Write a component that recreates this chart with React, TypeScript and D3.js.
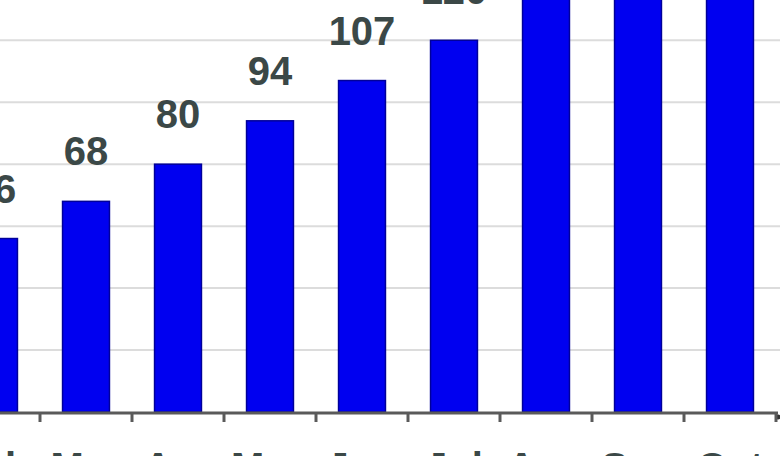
import React, { useEffect, useRef } from 'react';
import * as d3 from 'd3';

const months = ['Feb', 'Mar', 'Apr', 'May', 'Jun', 'Jul', 'Aug', 'Sep', 'Oct'];
const values = [56, 68, 80, 94, 107, 120, 134, 148, 162];
const gridTicks = [20, 40, 60, 80, 100, 120];

const width = 780;
const height = 456;
const axisY = 412;

export default function App() {
  const ref = useRef<SVGSVGElement>(null);

  useEffect(() => {
    const svg = d3.select(ref.current);
    svg.selectAll('*').remove();

    const x = d3
      .scaleBand<string>()
      .domain(months)
      .range([-52, 776])
      .paddingInner(0.49)
      .paddingOuter(0.245);

    const y = d3.scaleLinear().domain([0, 133]).range([axisY, 0]);

    svg.append('rect').attr('width', width).attr('height', height).attr('fill', '#ffffff');

    // horizontal grid
    svg
      .append('g')
      .selectAll('line')
      .data(gridTicks)
      .enter()
      .append('line')
      .attr('x1', 0)
      .attr('x2', width)
      .attr('y1', (d) => y(d))
      .attr('y2', (d) => y(d))
      .attr('stroke', '#dcdcdc')
      .attr('stroke-width', 2);

    // bars
    svg
      .append('g')
      .selectAll('rect')
      .data(values)
      .enter()
      .append('rect')
      .attr('x', (_, i) => x(months[i])!)
      .attr('y', (d) => y(d))
      .attr('width', x.bandwidth())
      .attr('height', (d) => axisY - y(d))
      .attr('fill', '#0000f0')
      .attr('stroke', '#00009a')
      .attr('stroke-width', 1.5);

    // value labels
    svg
      .append('g')
      .selectAll('text')
      .data(values)
      .enter()
      .append('text')
      .attr('x', (_, i) => x(months[i])! + x.bandwidth() / 2)
      .attr('y', (d) => y(d) - 36)
      .attr('text-anchor', 'middle')
      .attr('font-family', 'Liberation Sans, Arial, sans-serif')
      .attr('font-size', 40)
      .attr('font-weight', 'bold')
      .attr('fill', '#3b4847')
      .text((d) => d);

    // x axis
    const axis = svg.append('g');
    axis
      .append('line')
      .attr('x1', 0)
      .attr('x2', 778)
      .attr('y1', axisY + 1)
      .attr('y2', axisY + 1)
      .attr('stroke', '#5a5a5a')
      .attr('stroke-width', 3);

    axis
      .append('circle')
      .attr('cx', 778)
      .attr('cy', axisY + 5)
      .attr('r', 2.5)
      .attr('fill', '#333');

    const step = x.step();
    axis
      .selectAll('line.tick')
      .data(months)
      .enter()
      .append('line')
      .attr('class', 'tick')
      .attr('x1', (d) => x(d)! + x.bandwidth() / 2 + step / 2)
      .attr('x2', (d) => x(d)! + x.bandwidth() / 2 + step / 2)
      .attr('y1', axisY)
      .attr('y2', axisY + 10)
      .attr('stroke', '#5a5a5a')
      .attr('stroke-width', 3);

    axis
      .selectAll('text')
      .data(months)
      .enter()
      .append('text')
      .attr('x', (d) => x(d)! + x.bandwidth() / 2)
      .attr('y', 481)
      .attr('text-anchor', 'middle')
      .attr('font-family', 'Liberation Sans, Arial, sans-serif')
      .attr('font-size', 40)
      .attr('font-weight', 'bold')
      .attr('fill', '#3b4847')
      .text((d) => d);
  }, []);

  return (
    <svg
      ref={ref}
      width={width}
      height={height}
      style={{ position: 'absolute', left: 0, top: 0 }}
    />
  );
}
